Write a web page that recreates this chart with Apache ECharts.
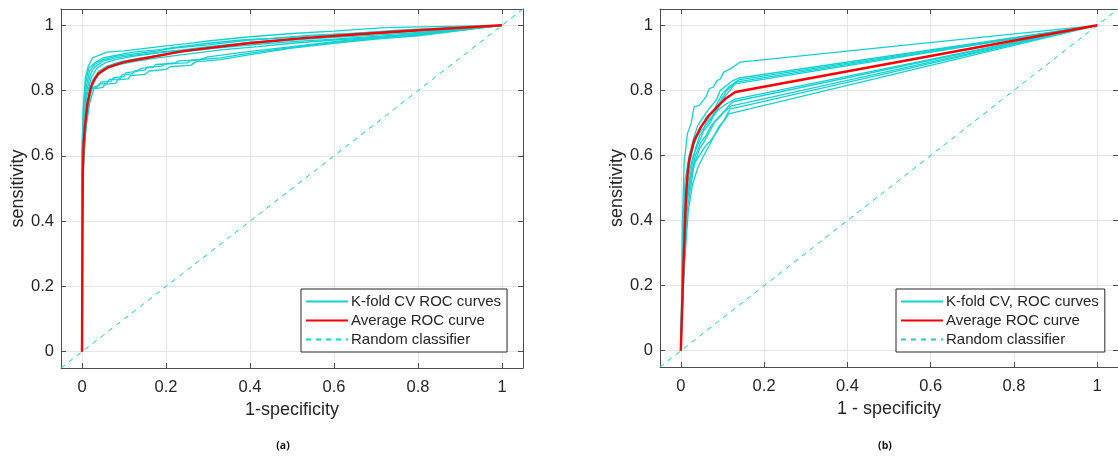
<!DOCTYPE html>
<html>
<head>
<meta charset="utf-8">
<script src="https://cdn.jsdelivr.net/npm/echarts@6/dist/echarts.min.js"></script>
<style>html,body{margin:0;padding:0;background:#fff}#c{width:1118px;height:459px}</style>
</head>
<body>
<div id="c"></div>
<script>
// ---------- DATA ----------
const tickValues = [0, 0.2, 0.4, 0.6, 0.8, 1];
const axisRange = [-0.05, 1.05];
const randomLine = [[-0.05, -0.05], [1.05, 1.05]];

// Panel (a): K-fold CV ROC curves  [1-specificity, sensitivity]
const a1 = [[0,0],[0,0.62],[0.003,0.75],[0.008,0.84],[0.015,0.875],[0.025,0.9],[0.04,0.908],[0.06,0.918],[0.1,0.922],[0.14,0.928],[0.2,0.937],[0.25,0.944],[0.3,0.952],[0.4,0.965],[0.5,0.975],[0.6,0.982],[0.72,0.993],[1,1]];
const a2 = [[0,0],[0,0.6],[0.003,0.73],[0.008,0.82],[0.016,0.868],[0.03,0.885],[0.05,0.9],[0.08,0.908],[0.12,0.918],[0.18,0.925],[0.22,0.932],[0.3,0.945],[0.38,0.955],[0.45,0.96],[0.55,0.97],[0.65,0.975],[0.75,0.985],[1,1]];
const a3 = [[0,0],[0,0.58],[0.004,0.71],[0.01,0.81],[0.018,0.86],[0.03,0.88],[0.05,0.895],[0.08,0.905],[0.12,0.912],[0.17,0.92],[0.22,0.93],[0.3,0.94],[0.4,0.955],[0.5,0.963],[0.6,0.972],[0.7,0.98],[0.8,0.985],[1,1]];
const a4 = [[0,0],[0,0.55],[0.004,0.69],[0.01,0.79],[0.02,0.85],[0.03,0.872],[0.05,0.89],[0.08,0.9],[0.12,0.908],[0.18,0.918],[0.24,0.925],[0.3,0.935],[0.4,0.948],[0.5,0.958],[0.6,0.967],[0.7,0.975],[0.8,0.982],[1,1]];
const a5 = [[0,0],[0,0.52],[0.005,0.67],[0.011,0.78],[0.022,0.84],[0.035,0.868],[0.055,0.885],[0.08,0.895],[0.12,0.905],[0.18,0.915],[0.25,0.925],[0.32,0.935],[0.4,0.945],[0.5,0.955],[0.6,0.963],[0.7,0.97],[0.8,0.978],[1,1]];
const a6 = [[0,0],[0,0.5],[0.005,0.65],[0.012,0.76],[0.024,0.83],[0.04,0.86],[0.06,0.875],[0.09,0.888],[0.13,0.898],[0.18,0.908],[0.25,0.92],[0.32,0.93],[0.42,0.942],[0.5,0.95],[0.6,0.958],[0.7,0.966],[0.8,0.974],[1,1]];
const a7 = [[0,0],[0,0.48],[0.006,0.63],[0.013,0.74],[0.025,0.82],[0.04,0.85],[0.06,0.868],[0.09,0.88],[0.13,0.89],[0.18,0.9],[0.25,0.912],[0.33,0.925],[0.42,0.935],[0.5,0.945],[0.6,0.955],[0.7,0.963],[0.8,0.97],[1,1]];
const a8 = [[0,0],[0,0.45],[0.003,0.6],[0.008,0.7],[0.015,0.77],[0.022,0.805],[0.035,0.81],[0.04,0.82],[0.06,0.823],[0.065,0.834],[0.09,0.836],[0.095,0.848],[0.12,0.851],[0.125,0.86],[0.15,0.863],[0.155,0.872],[0.19,0.875],[0.2,0.883],[0.25,0.885],[0.26,0.893],[0.33,0.9],[0.4,0.915],[0.5,0.932],[0.6,0.948],[0.7,0.96],[0.8,0.972],[1,1]];
const a9 = [[0,0],[0,0.46],[0.003,0.6],[0.008,0.7],[0.016,0.775],[0.025,0.81],[0.04,0.815],[0.045,0.826],[0.07,0.829],[0.075,0.84],[0.1,0.843],[0.105,0.855],[0.13,0.858],[0.14,0.868],[0.17,0.871],[0.175,0.88],[0.22,0.883],[0.23,0.891],[0.28,0.894],[0.3,0.903],[0.4,0.92],[0.5,0.935],[0.6,0.95],[0.7,0.962],[0.8,0.975],[1,1]];
const a10 = [[0,0],[0,0.44],[0.004,0.58],[0.009,0.68],[0.018,0.76],[0.028,0.805],[0.05,0.81],[0.055,0.82],[0.08,0.822],[0.085,0.833],[0.11,0.836],[0.115,0.846],[0.15,0.85],[0.16,0.86],[0.2,0.865],[0.21,0.873],[0.26,0.878],[0.27,0.888],[0.33,0.895],[0.4,0.91],[0.5,0.93],[0.6,0.945],[0.7,0.958],[0.8,0.968],[1,1]];
const aAverage = [[0,0],[0.001,0.3],[0.002,0.55],[0.004,0.64],[0.007,0.69],[0.013,0.76],[0.021,0.81],[0.03,0.835],[0.039,0.852],[0.063,0.872],[0.102,0.888],[0.166,0.903],[0.237,0.92],[0.3,0.93],[0.4,0.946],[0.52,0.96],[0.64,0.971],[0.8,0.985],[1,1]];

// Panel (b)
const b1 = [[0,0],[0.004,0.4],[0.008,0.58],[0.016,0.667],[0.025,0.7],[0.032,0.749],[0.044,0.754],[0.06,0.779],[0.068,0.805],[0.078,0.81],[0.087,0.83],[0.095,0.835],[0.103,0.856],[0.119,0.866],[0.143,0.887],[1,1]];
const b2 = [[0,0],[0.005,0.38],[0.01,0.52],[0.02,0.6],[0.03,0.65],[0.04,0.69],[0.05,0.71],[0.06,0.73],[0.072,0.75],[0.085,0.77],[0.095,0.8],[0.11,0.815],[0.125,0.83],[0.14,0.838],[1,1]];
const b3 = [[0,0],[0.006,0.35],[0.012,0.5],[0.02,0.57],[0.03,0.63],[0.042,0.67],[0.05,0.69],[0.062,0.72],[0.075,0.73],[0.088,0.76],[0.1,0.79],[0.115,0.81],[0.138,0.832],[1,1]];
const b4 = [[0,0],[0.006,0.33],[0.012,0.48],[0.022,0.56],[0.03,0.6],[0.04,0.63],[0.05,0.66],[0.06,0.7],[0.075,0.72],[0.085,0.74],[0.097,0.77],[0.11,0.8],[0.12,0.81],[0.135,0.826],[1,1]];
const b5 = [[0,0],[0.007,0.32],[0.014,0.47],[0.024,0.55],[0.035,0.62],[0.045,0.66],[0.058,0.68],[0.07,0.7],[0.08,0.725],[0.092,0.75],[0.105,0.78],[0.118,0.8],[0.13,0.82],[1,1]];
const b6 = [[0,0],[0.006,0.36],[0.012,0.5],[0.02,0.58],[0.03,0.63],[0.04,0.66],[0.052,0.68],[0.065,0.7],[0.078,0.72],[0.09,0.74],[0.105,0.755],[0.128,0.772],[1,1]];
const b7 = [[0,0],[0.007,0.3],[0.014,0.45],[0.024,0.53],[0.034,0.58],[0.045,0.62],[0.055,0.64],[0.068,0.67],[0.08,0.7],[0.095,0.72],[0.11,0.745],[0.125,0.765],[1,1]];
const b8 = [[0,0],[0.008,0.3],[0.015,0.46],[0.025,0.54],[0.035,0.6],[0.048,0.64],[0.06,0.66],[0.072,0.69],[0.085,0.71],[0.1,0.73],[0.122,0.752],[1,1]];
const b9 = [[0,0],[0.008,0.28],[0.016,0.44],[0.026,0.52],[0.032,0.575],[0.045,0.6],[0.06,0.63],[0.072,0.646],[0.085,0.67],[0.1,0.7],[0.118,0.742],[1,1]];
const b10 = [[0,0],[0.009,0.27],[0.018,0.43],[0.028,0.51],[0.04,0.56],[0.055,0.6],[0.068,0.63],[0.08,0.66],[0.092,0.69],[0.103,0.705],[0.115,0.728],[1,1]];
const bAverage = [[0,0],[0.006,0.25],[0.012,0.46],[0.016,0.54],[0.02,0.585],[0.032,0.646],[0.048,0.687],[0.068,0.723],[0.087,0.749],[0.1,0.765],[0.107,0.774],[0.131,0.795],[1,1]];

const foldsA = [a1, a2, a3, a4, a5, a6, a7, a8, a9, a10];
const foldsB = [b1, b2, b3, b4, b5, b6, b7, b8, b9, b10];

const namesA = ['K-fold CV ROC curves', 'Average ROC curve', 'Random classifier'];
const namesB = ['K-fold CV, ROC curves', 'Average ROC curve', 'Random classifier'];
const xNames = ['1-specificity', '1 - specificity'];
const yName = 'sensitivity';
const panelLabels = ['(a)', '(b)'];

// ---------- STYLE ----------
const CYAN = '#14d2d2';
const RED = '#ff0000';
const AXIS = '#4d4d4d';
const TXT = '#262626';
const FONT = '"Liberation Sans", Arial, Helvetica, sans-serif';

function mainX(grid, name) {
  return {
    type: 'value', gridIndex: grid, position: 'bottom', min: axisRange[0], max: axisRange[1],
    name: name, nameLocation: 'middle', nameGap: 33,
    nameTextStyle: { fontFamily: FONT, fontSize: 18, color: TXT },
    axisLine: { show: true, onZero: false, lineStyle: { color: AXIS, width: 1 } },
    axisTick: { show: true, inside: true, length: 5, customValues: tickValues, lineStyle: { color: AXIS } },
    axisLabel: { show: true, customValues: tickValues, margin: 11, fontFamily: FONT, fontSize: 16.5, color: TXT,
      formatter: v => String(+v.toFixed(2)) },
    splitLine: { show: true, lineStyle: { color: '#e5e5e5', width: 1 } }
  };
}
function boxX(grid) {
  return {
    type: 'value', gridIndex: grid, position: 'top', min: axisRange[0], max: axisRange[1],
    axisLine: { show: true, onZero: false, lineStyle: { color: AXIS, width: 1 } },
    axisTick: { show: true, inside: true, length: 5, customValues: tickValues, lineStyle: { color: AXIS } },
    axisLabel: { show: false }, splitLine: { show: false }
  };
}
function mainY(grid) {
  return {
    type: 'value', gridIndex: grid, position: 'left', min: axisRange[0], max: axisRange[1],
    name: yName, nameLocation: 'middle', nameGap: 34,
    nameTextStyle: { fontFamily: FONT, fontSize: 18, color: TXT },
    axisLine: { show: true, onZero: false, lineStyle: { color: AXIS, width: 1 } },
    axisTick: { show: true, inside: true, length: 5, customValues: tickValues, lineStyle: { color: AXIS } },
    axisLabel: { show: true, customValues: tickValues, margin: 7, fontFamily: FONT, fontSize: 16.5, color: TXT,
      formatter: v => String(+v.toFixed(2)) },
    splitLine: { show: true, lineStyle: { color: '#e5e5e5', width: 1 } }
  };
}
function boxY(grid) {
  return {
    type: 'value', gridIndex: grid, position: 'right', min: axisRange[0], max: axisRange[1],
    axisLine: { show: true, onZero: false, lineStyle: { color: AXIS, width: 1 } },
    axisTick: { show: true, inside: true, length: 5, customValues: tickValues, lineStyle: { color: AXIS } },
    axisLabel: { show: false }, splitLine: { show: false }
  };
}

const series = [];
function addPanel(folds, avg, names, xi, yi) {
  folds.forEach(d => series.push({
    type: 'line', name: names[0], xAxisIndex: xi, yAxisIndex: yi, data: d,
    symbol: 'none', showSymbol: false, silent: true, z: 2,
    lineStyle: { color: CYAN, width: 1.3 }, itemStyle: { color: CYAN }
  }));
  series.push({
    type: 'line', name: names[2], xAxisIndex: xi, yAxisIndex: yi, data: randomLine,
    symbol: 'none', showSymbol: false, silent: true, z: 3,
    lineStyle: { color: CYAN, width: 1, type: [5, 5] }, itemStyle: { color: CYAN }
  });
  series.push({
    type: 'line', name: names[1], xAxisIndex: xi, yAxisIndex: yi, data: avg,
    symbol: 'none', showSymbol: false, silent: true, z: 4,
    lineStyle: { color: RED, width: 2.4 }, itemStyle: { color: RED }
  });
}
addPanel(foldsA, aAverage, namesA, 0, 0);
addPanel(foldsB, bAverage, namesB, 2, 2);

function legendAt(left, names) {
  return {
    orient: 'vertical', left: left, top: 289, data: names,
    backgroundColor: '#fff', borderColor: '#262626', borderWidth: 1, borderRadius: 0,
    padding: [5, 6, 5, 4], itemGap: 4, itemWidth: 42, itemHeight: 15.5,
    selectedMode: false,
    itemStyle: { opacity: 0, borderWidth: 0 },
    textStyle: { fontFamily: FONT, fontSize: 15, color: TXT, padding: [0, 0, 0, -2] }
  };
}

const option = {
  animation: false,
  backgroundColor: '#fff',
  grid: [
    { left: 61, top: 9, width: 462, height: 359, containLabel: false },
    { left: 660, top: 9, width: 461, height: 358, containLabel: false }
  ],
  xAxis: [mainX(0, xNames[0]), boxX(0), mainX(1, xNames[1]), boxX(1)],
  yAxis: [mainY(0), boxY(0), mainY(1), boxY(1)],
  legend: [legendAt(301, namesA), legendAt(896, namesB)],
  title: [
    { text: panelLabels[0], left: 278, top: 436, textAlign: 'center',
      textStyle: { fontFamily: '"Open Sans", sans-serif', fontSize: 10.5, fontWeight: 'bold', color: '#111' } },
    { text: panelLabels[1], left: 880, top: 436, textAlign: 'center',
      textStyle: { fontFamily: '"Open Sans", sans-serif', fontSize: 10.5, fontWeight: 'bold', color: '#111' } }
  ],
  series: series
};
const chart = echarts.init(document.getElementById('c'), null, { renderer: 'canvas' });
chart.setOption(option);
</script>
</body>
</html>
